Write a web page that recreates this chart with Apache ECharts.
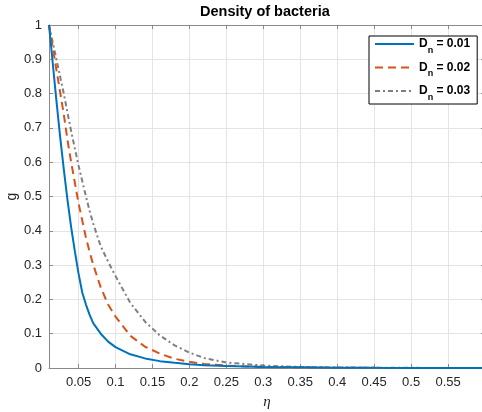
<!DOCTYPE html>
<html>
<head>
<meta charset="utf-8">
<script src="https://cdn.jsdelivr.net/npm/echarts@6/dist/echarts.min.js"></script>
<style>html,body{margin:0;padding:0;background:#fff;}#c{width:482px;height:412px;}</style>
</head>
<body>
<div id="c"></div>
<script>
const eta = [0.01,0.015,0.02,0.025,0.03,0.035,0.04,0.045,0.05,0.055,0.06,0.065,0.07,0.08,0.09,0.1,0.12,0.14,0.16,0.18,0.2,0.22,0.25,0.3,0.35,0.4,0.45,0.5,0.55,0.6];
const g001 = [1,0.89,0.78,0.675,0.58,0.49,0.41,0.34,0.275,0.22,0.185,0.155,0.13,0.1,0.077,0.061,0.04,0.028,0.02,0.015,0.011,0.008,0.006,0.003,0.002,0.001,0.0006,0.0003,0.0002,0.0001];
const g002 = [1,0.935,0.87,0.805,0.74,0.665,0.6,0.54,0.48,0.43,0.38,0.338,0.3,0.235,0.185,0.15,0.094,0.062,0.042,0.027,0.018,0.012,0.007,0.003,0.0015,0.0007,0.0004,0.0002,0.0001,0.0001];
const g003 = [1,0.95,0.9,0.85,0.8,0.745,0.69,0.64,0.59,0.545,0.5,0.458,0.42,0.355,0.31,0.268,0.19,0.135,0.095,0.066,0.045,0.029,0.016,0.007,0.003,0.0015,0.0008,0.0004,0.0002,0.0001];
const seriesNames = ['0.01','0.02','0.03'];
const xTicks = [0.05,0.1,0.15,0.2,0.25,0.3,0.35,0.4,0.45,0.5,0.55];

const pairs = ys => eta.map((x,i)=>[x, ys[i]]);
const axisColor = '#8a8a8a';
const gridColor = '#e4e4e4';
const lblColor = '#262626';
const font = 'Liberation Sans, Arial, Helvetica, sans-serif';

const chart = echarts.init(document.getElementById('c'), null, {renderer:'canvas'});
const xBase = {
  type:'value', min:0.01, max:0.6,
  axisLine:{show:true, onZero:false, lineStyle:{color:axisColor, width:1}},
  axisTick:{show:true, inside:true, length:4, customValues:xTicks, lineStyle:{color:axisColor}},
};
const yBase = {
  type:'value', min:0, max:1, interval:0.1,
  axisLine:{show:true, onZero:false, lineStyle:{color:axisColor, width:1}},
  axisTick:{show:true, inside:true, length:4, lineStyle:{color:axisColor}},
};
chart.setOption({
  animation:false,
  backgroundColor:'#fff',
  title:{
    text:'Density of bacteria', left:200, top:4, padding:0,
    textStyle:{fontFamily:font, fontSize:14.5, fontWeight:'bold', color:'#000'}
  },
  grid:{left:49, top:25, right:-3, bottom:44, containLabel:false, outerBoundsMode:'none'},
  legend:{
    orient:'vertical', left:369, top:36,
    backgroundColor:'#fff', borderColor:'#000', borderWidth:1,
    padding:[2,7,2,5], itemWidth:39, itemHeight:14, itemGap:6.5,
    itemStyle:{opacity:0, borderWidth:0},
    data:seriesNames,
    formatter: n => '{a|D}{b|n}{a| = ' + n + '}',
    textStyle:{
      fontFamily:font, color:'#000',
      rich:{
        a:{fontFamily:font, fontSize:12, fontWeight:'bold', color:'#000', lineHeight:18, verticalAlign:'middle'},
        b:{fontFamily:font, fontSize:9, fontWeight:'bold', color:'#000', lineHeight:22, verticalAlign:'bottom'}
      }
    }
  },
  xAxis:[
    Object.assign({}, xBase, {
      position:'bottom',
      name:'η', nameLocation:'middle', nameGap:27, nameMoveOverlap:false,
      nameTextStyle:{fontFamily:'Liberation Serif, Times New Roman, serif', fontStyle:'italic', fontSize:15, color:lblColor},
      axisLabel:{show:true, customValues:xTicks, margin:8, fontFamily:font, fontSize:13, color:lblColor, formatter:v=>String(+v.toFixed(2))},
      splitLine:{show:true, lineStyle:{color:gridColor, width:1}}
    }),
    Object.assign({}, xBase, {
      position:'top',
      axisLabel:{show:false},
      splitLine:{show:false}
    })
  ],
  yAxis:[
    Object.assign({}, yBase, {
      position:'left',
      name:'g', nameLocation:'middle', nameGap:30, nameMoveOverlap:false,
      nameTextStyle:{fontFamily:font, fontSize:14, color:lblColor},
      axisLabel:{show:true, margin:7, fontFamily:font, fontSize:13, color:lblColor, formatter:v=>String(+v.toFixed(1))},
      splitLine:{show:true, lineStyle:{color:gridColor, width:1}}
    }),
    Object.assign({}, yBase, {
      position:'right',
      axisLabel:{show:false},
      splitLine:{show:false}
    })
  ],
  series:[
    {name:seriesNames[0], type:'line', data:pairs(g001), showSymbol:false, symbol:'none', smooth:false,
     lineStyle:{color:'#0072BD', width:2}, itemStyle:{color:'#0072BD'}, z:5},
    {name:seriesNames[1], type:'line', data:pairs(g002), showSymbol:false, symbol:'none', smooth:false,
     lineStyle:{color:'#D95319', width:2, type:[8,5]}, itemStyle:{color:'#D95319'}, z:4},
    {name:seriesNames[2], type:'line', data:pairs(g003), showSymbol:false, symbol:'none', smooth:false,
     lineStyle:{color:'#7F7F7F', width:2, type:[5,3,2,3]}, itemStyle:{color:'#7F7F7F'}, z:3}
  ]
});
</script>
</body>
</html>
